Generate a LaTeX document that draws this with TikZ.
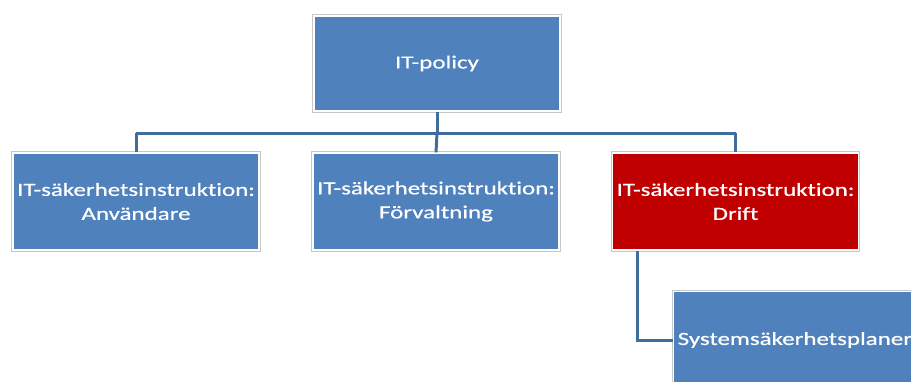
\documentclass[tikz,border=0pt]{standalone}
\usepackage{fontspec}
\setmainfont[FakeStretch=1.35, FakeBold=0.6, Ligatures=NoCommon]{Carlito}
\definecolor{boxblue}{HTML}{4F81BD}
\definecolor{boxred}{HTML}{C00000}
\definecolor{linkblue}{HTML}{3F6D9E}
\begin{document}
\begin{tikzpicture}[x=1pt,y=1pt,
  orgbox/.style={rectangle, minimum width=246pt, minimum height=97pt,
    fill=boxblue, text=white, font=\fontsize{18.5}{24}\selectfont,
    align=center, inner sep=0pt,
    preaction={draw=black!22, line width=3.2pt},
    draw=white, line width=1.4pt},
  hotbox/.style={orgbox, fill=boxred},
  link/.style={draw=linkblue, line width=3pt}]
\useasboundingbox (0,0) rectangle (911,-381);
\begin{scope}
\clip (0,0) rectangle (911,-381);
% top level
\node[orgbox, minimum height=95pt] (policy) at (437,-63.5) {IT-policy};
% second level
\node[orgbox] (anv) at (136,-201.5) {IT-säkerhetsinstruktion:\\Användare};
\node[orgbox] (forv) at (436,-201.5) {IT-säkerhetsinstruktion:\\Förvaltning};
\node[hotbox] (drift) at (735.5,-201.5) {IT-säkerhetsinstruktion:\\Drift};
% third level, text starts near the left edge
\node[orgbox, anchor=west, align=left, text width=238pt] (sys) at (673,-340)
  {Systemsäkerhetsplaner};
\coordinate (bus) at (437,-133);
\coordinate (elbow) at (637,-340);
% connectors
\draw[link] (policy.south) -- (bus);
\draw[link] (anv.north |- bus) -- (drift.north |- bus);
\draw[link] (bus) -- (forv.north);
\draw[link] (anv.north |- bus) -- (anv.north);
\draw[link] (drift.north |- bus) -- (drift.north);
\draw[link] (drift.south -| elbow) -- (elbow) -- (sys.west);
\end{scope}
\end{tikzpicture}
\end{document}
